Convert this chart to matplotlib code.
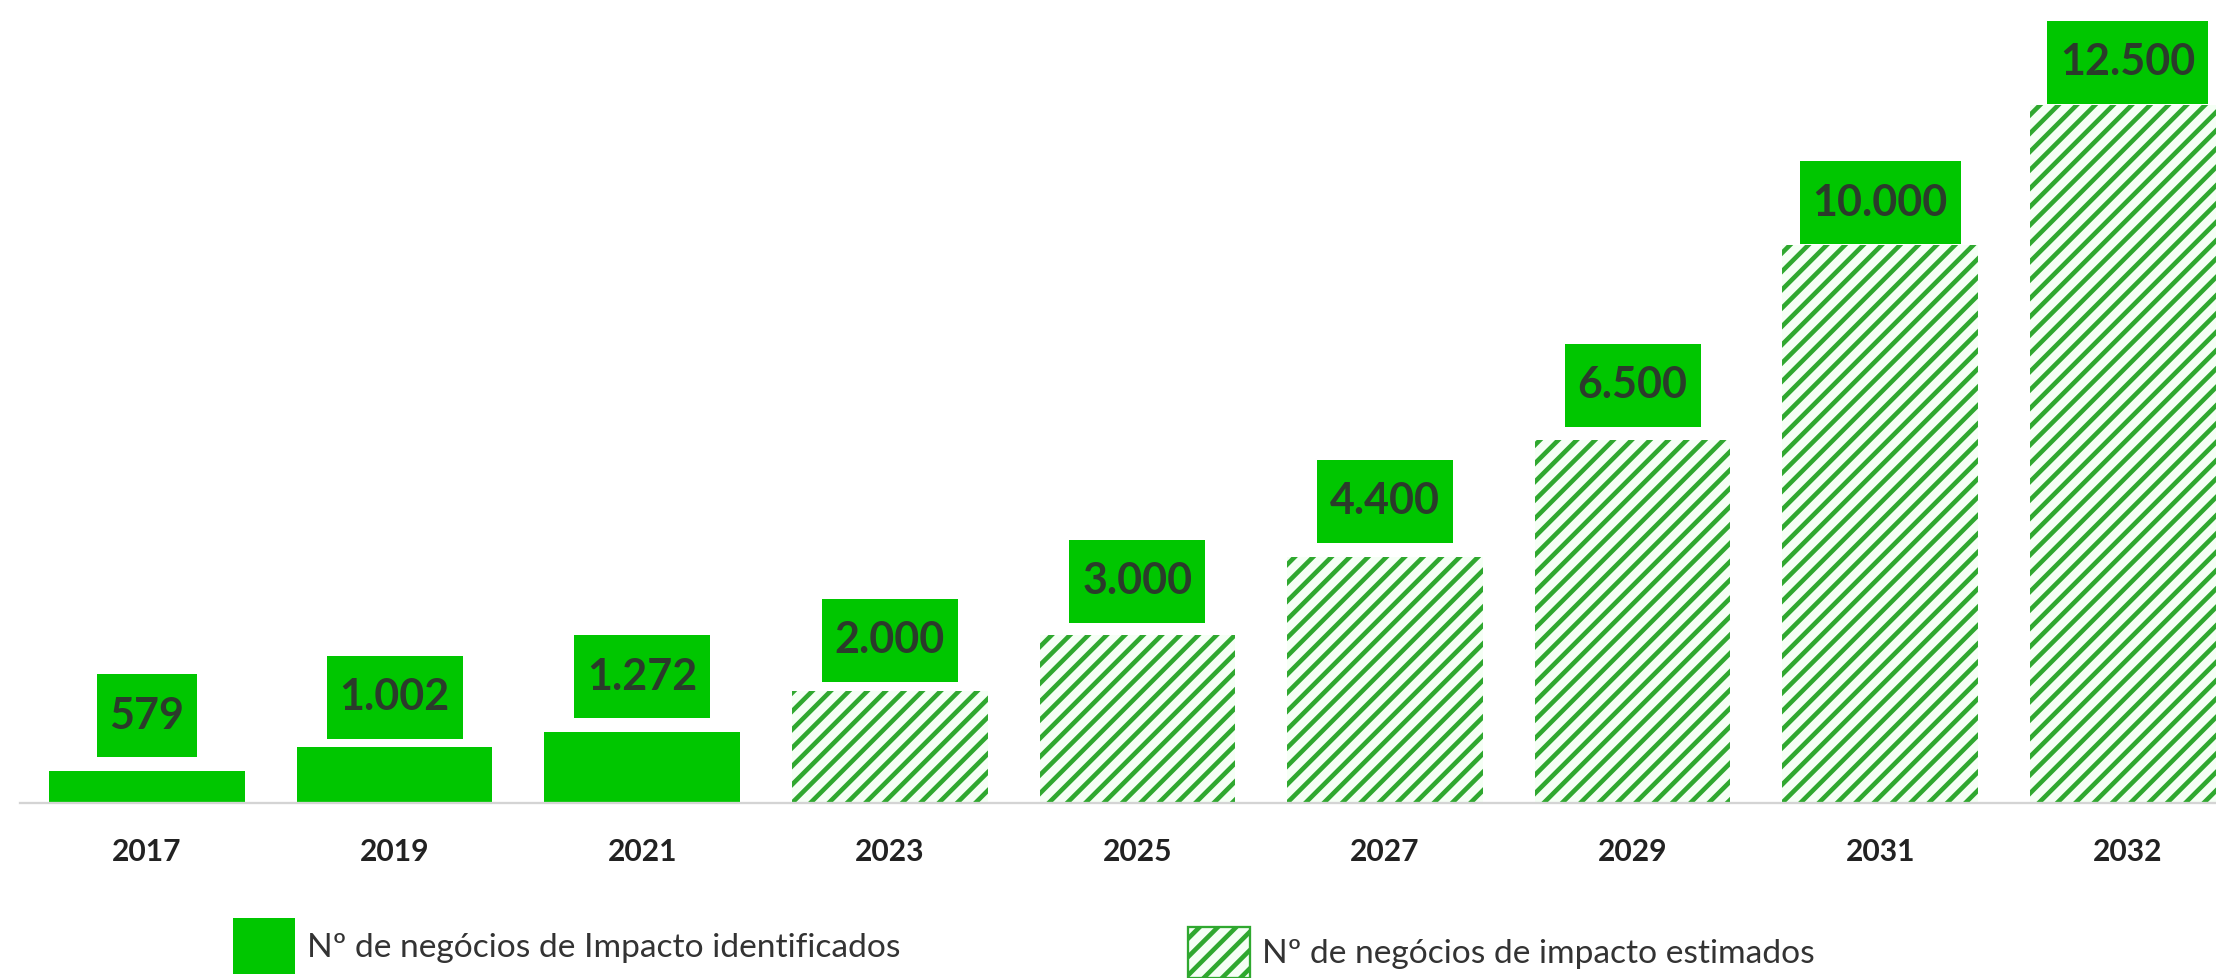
#!/usr/bin/env python3

import matplotlib
matplotlib.use('Agg')
import matplotlib.pyplot as plt
from matplotlib.path import Path


years = ['2017', '2019', '2021', '2023', '2025', '2027', '2029', '2031', '2032']
counts = [579, 1002, 1272, 2000, 3000, 4400, 6500, 10000, 12500]
count_labels = ['579', '1.002', '1.272', '2.000', '3.000', '4.400', '6.500', '10.000', '12.500']
estimated = [False, False, False, True, True, True, True, True, True]
legend_labels = ['Nº de negócios de Impacto identificados',
                 'Nº de negócios de impacto estimados']

DPI = 110
W, H = 2216, 978
GREEN = '#00c600'
HATCH_GREEN = '#2fa82f'
TEXT = '#333333'

# how far (px) each value box sits above its bar
label_lift = [55, 50, 55, 51, 54, 56, 55, 42, 43]


def pt(p):
    # pixels -> points at this dpi
    return p * 72 / DPI


def tall_box(x0, y0, width, height, mutation_size):
    # label box: a bit more padding top/bottom than left/right
    padx = 0.3 * mutation_size
    pady = 0.5 * mutation_size
    x0, y0 = x0 - padx, y0 - pady
    x1, y1 = x0 + width + 2 * padx, y0 + height + 2 * pady
    return Path([(x0, y0), (x1, y0), (x1, y1), (x0, y1), (x0, y0)], closed=True)


def main():
    plt.rcParams['font.family'] = ['Lato', 'DejaVu Sans']
    plt.rcParams['hatch.linewidth'] = 3.0

    fig = plt.figure(figsize=(W / DPI, H / DPI), dpi=DPI)
    # baseline sits 803 px from the top, axis line starts 20 px from left
    ax = fig.add_axes([20 / W, (H - 803) / H, 1 - 20 / W, 803 / H])

    x = list(range(len(years)))
    solid_x = [i for i in x if not estimated[i]]
    solid_y = [counts[i] for i in x if not estimated[i]]
    est_x = [i for i in x if estimated[i]]
    est_y = [counts[i] for i in x if estimated[i]]

    b1 = ax.bar(solid_x, solid_y, width=0.79, color=GREEN, linewidth=0)
    b2 = ax.bar(est_x, est_y, width=0.79, facecolor='#f5fff5', edgecolor=HATCH_GREEN,
                hatch='//', linewidth=0)

    for i, lbl in enumerate(count_labels):
        ax.annotate(lbl, xy=(i, counts[i]), xytext=(0, pt(label_lift[i])),
                    textcoords='offset points', ha='center', va='center',
                    fontsize=pt(43), fontweight='bold', color='#2b3b2b',
                    bbox=dict(boxstyle=tall_box, fc=GREEN, ec='none'))

    ax.set_xlim(-(147 - 20) / 247.6, (W - 147) / 247.6)
    ax.set_ylim(0, 803 / 0.05584)

    for side in ['left', 'top', 'right']:
        ax.spines[side].set_visible(False)
    ax.spines['bottom'].set_color('#d4d4d4')
    ax.spines['bottom'].set_linewidth(1.5)

    ax.set_yticks([])
    ax.set_xticks(x, years, fontsize=pt(30), fontweight='bold', color='#222222')
    ax.tick_params(axis='x', length=0, pad=pt(35))

    common = dict(loc='upper left', frameon=False, fontsize=pt(33.5), labelcolor=TEXT,
                  handlelength=1.85, handletextpad=0.35,
                  borderpad=0, borderaxespad=0)
    fig.legend([b1], [legend_labels[0]], bbox_to_anchor=(233 / W, 1 - 918 / H),
               handleheight=2.2, **common)
    leg2 = fig.legend([b2], [legend_labels[1]], bbox_to_anchor=(1188 / W, 1 - 927 / H),
                      handleheight=1.95, **common)
    leg2.legend_handles[0].set_linewidth(1.5)

    fig.savefig('out.png', dpi=DPI)


if __name__ == "__main__":
    main()
